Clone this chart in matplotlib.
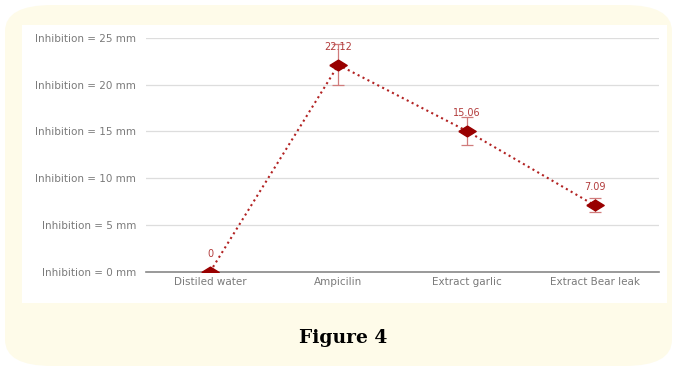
import numpy as np
import matplotlib.pyplot as plt
from matplotlib.patches import FancyBboxPatch, Rectangle

categories = ['Distiled water', 'Ampicilin', 'Extract garlic', 'Extract Bear leak']
inhibition = [0.0, 22.12, 15.06, 7.09]
error = [0.0, 2.2, 1.5, 0.75]
value_labels = ['0', '22.12', '15.06', '7.09']
yticks = [0, 5, 10, 15, 20, 25]
ytick_labels = [f'Inhibition = {v} mm' for v in yticks]

plt.rcParams['font.family'] = ['DejaVu Sans']

fig = plt.figure(figsize=(6.75, 3.74), dpi=100)
W, H = 675, 374

# cream rounded frame + white panel, kept behind the axes
frame = FancyBboxPatch((5 / W, 8 / H), 667 / W, 361 / H,
                       boxstyle='round,pad=0,rounding_size=0.07',
                       transform=fig.transFigure, facecolor='#fefbe9',
                       edgecolor='none', zorder=-2)
fig.patches.append(frame)
panel = Rectangle((22 / W, 1 - 303 / H), 645 / W, 278 / H,
                  transform=fig.transFigure, facecolor='white',
                  edgecolor='none', zorder=-1)
fig.patches.append(panel)

ax = fig.add_axes([146 / W, 1 - 271.7 / H, 513 / W, (271.7 - 38) / H])
ax.set_facecolor('none')
x = np.arange(len(categories)) + 0.5

# flattened diamond, wider than tall
flat_diamond = [(-1, 0), (0, 0.62), (1, 0), (0, -0.62), (-1, 0)]

ax.errorbar(x, inhibition, yerr=error, fmt='none', ecolor='#d07c7c',
            elinewidth=0.9, capsize=4.3, capthick=0.9, zorder=3)
ax.plot(x, inhibition, linestyle=':', color='#b22222', linewidth=1.5, zorder=4)
ax.plot(x, inhibition, linestyle='none', marker=flat_diamond, markersize=12.5,
        color='#990000', zorder=5)

for xi, yi, lab in zip(x, inhibition, value_labels):
    ax.annotate(lab, (xi, yi), xytext=(0, 9.5), textcoords='offset points',
                ha='center', va='bottom', fontsize=7, color='#b23c3c', zorder=6)

ax.set_xlim(0, 4)
ax.set_ylim(0, 25)
ax.set_yticks(yticks)
ax.set_yticklabels(ytick_labels)
ax.set_xticks(x)
ax.set_xticklabels(categories)
ax.tick_params(axis='both', length=0, labelsize=7.5, labelcolor='#7a7a7a')
ax.tick_params(axis='y', pad=7)
ax.tick_params(axis='x', pad=4)
ax.grid(axis='y', color='#dddddd', linewidth=0.9)
ax.set_axisbelow(True)
for side in ['top', 'right', 'left']:
    ax.spines[side].set_visible(False)
ax.spines['bottom'].set_color('#888888')
ax.spines['bottom'].set_linewidth(1.2)

fig.text(343 / W, 1 - 338 / H, 'Figure 4', ha='center', va='center',
         fontsize=13.5, fontweight='bold', family='DejaVu Serif', color='black')

fig.savefig('out.png', dpi=100)
